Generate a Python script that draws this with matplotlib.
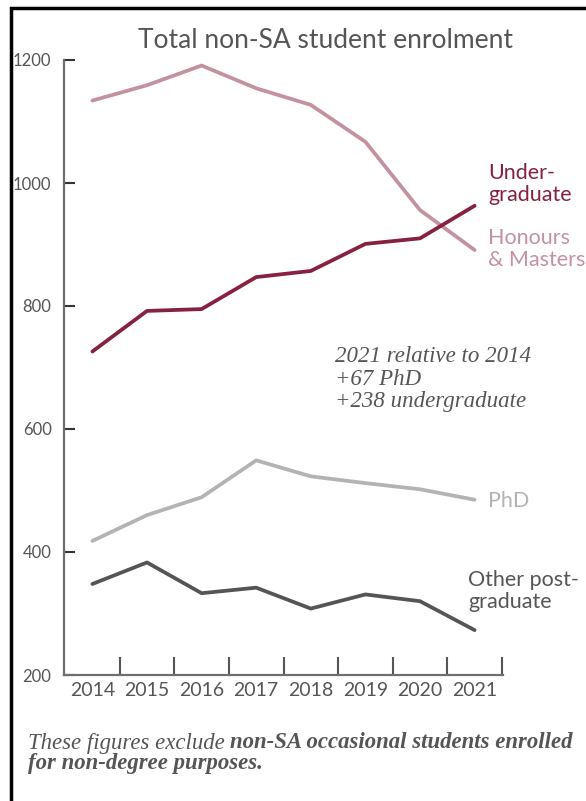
import matplotlib
matplotlib.use("Agg")
import matplotlib.pyplot as plt
from matplotlib.patches import Rectangle

years = ["2014", "2015", "2016", "2017", "2018", "2019", "2020", "2021"]
honours_masters = [1134, 1159, 1191, 1154, 1127, 1067, 956, 891]
undergraduate = [726, 792, 795, 847, 857, 901, 910, 963]
phd = [418, 460, 489, 549, 523, 512, 502, 485]
other_postgrad = [348, 383, 333, 342, 308, 331, 320, 273]
y_ticks = [200, 400, 600, 800, 1000, 1200]

SANS = ["Lato", "DejaVu Sans"]
SERIF = ["Liberation Serif", "DejaVu Serif"]
plt.rcParams['font.family'] = SANS

W, H = 586, 801
fig = plt.figure(figsize=(W / 100, H / 100), dpi=100)
ax = fig.add_axes([64 / W, 1 - 675 / H, (503 - 64) / W, (675 - 60) / H])

c_hm = "#c4929f"
c_ug = "#86213f"
c_phd = "#b3b3b3"
c_oth = "#555555"
txt = "#555555"

x = list(range(len(years)))
lw = 2.7
for series, col in [(honours_masters, c_hm), (undergraduate, c_ug), (phd, c_phd), (other_postgrad, c_oth)]:
    ax.plot(x, series, color=col, lw=lw, solid_capstyle="round", solid_joinstyle="round", clip_on=False)

ax.set_xlim(-0.52, 7.52)
ax.set_ylim(200, 1200)
for s in ["top", "right"]:
    ax.spines[s].set_visible(False)
for s in ["left", "bottom"]:
    ax.spines[s].set_color("#6e6e6e")
    ax.spines[s].set_linewidth(1.6)

ax.set_yticks(y_ticks)
ax.set_yticklabels([str(v) for v in y_ticks])
ax.tick_params(axis="y", direction="in", length=8, width=1.5, color="#333333",
               labelsize=12, labelcolor=txt, pad=9)
ax.set_xticks([i + 0.5 for i in x])
ax.set_xticklabels([])
ax.set_xticks(x, minor=True)
ax.set_xticklabels(years, minor=True)
ax.tick_params(axis="x", which="major", direction="in", length=13, width=1.5, color="#555555")
ax.tick_params(axis="x", which="minor", length=0, labelsize=14, labelcolor=txt, pad=5)

fig.text(325 / W, 1 - 41 / H, "Total non-SA student enrolment", ha="center", va="center",
         fontsize=19, color=txt)

lab_fs = 15.5
ax.text(7.25, 998, "Under-\ngraduate", color=c_ug, fontsize=lab_fs, ha="left", va="center",
        linespacing=1.1)
ax.text(7.25, 893, "Honours\n& Masters", color=c_hm, fontsize=lab_fs, ha="left", va="center",
        linespacing=1.1)
ax.text(7.25, 483, "PhD", color=c_phd, fontsize=lab_fs, ha="left", va="center")
ax.text(6.88, 337, "Other post-\ngraduate", color=c_oth, fontsize=lab_fs, ha="left", va="center",
        linespacing=1.1)

ax.text(4.45, 681, "2021 relative to 2014\n+67 PhD\n+238 undergraduate", color=txt,
        fontsize=16.5, family=SERIF, style="italic", ha="left", va="center", linespacing=1.08)

# footnote with mixed weights
renderer = fig.canvas.get_renderer()
ffs = 16.4
fx, fy = 28 / W, 1 - 743 / H
t1 = fig.text(fx, fy, "These figures exclude ", family=SERIF, style="italic", fontsize=ffs,
              color=txt, ha="left", va="center")
bb = t1.get_window_extent(renderer)
fig.text(bb.x1 / W, fy, "non-SA occasional students enrolled", family=SERIF, style="italic",
         weight="bold", fontsize=ffs, color=txt, ha="left", va="center")
fig.text(fx, 1 - 764 / H, "for non-degree purposes.", family=SERIF, style="italic",
         weight="bold", fontsize=ffs, color=txt, ha="left", va="center")

# border
fig.patches.append(Rectangle((11 / W, -0.05), 1.2, 1 - 8 / H + 0.05, transform=fig.transFigure,
                             fill=False, edgecolor="black", lw=2.5))

fig.savefig("out.png", dpi=100, facecolor="white")
